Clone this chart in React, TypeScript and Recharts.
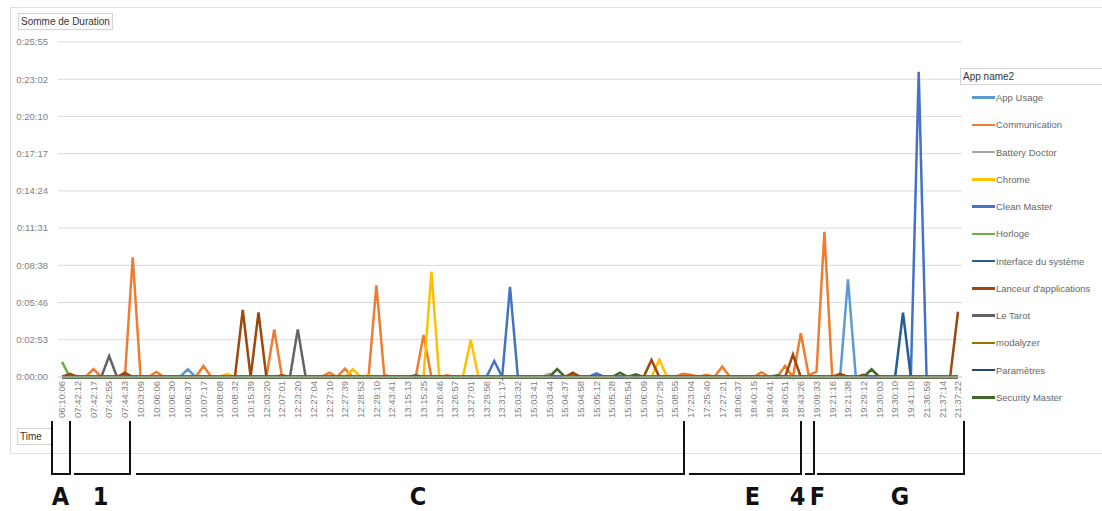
import { LineChart, Line, XAxis, YAxis, CartesianGrid } from 'recharts';

// category axis (only every second one is labelled, as in the Excel pivot chart)
const TIMES = [
  '06:10:06', '07:42:05', '07:42:12', '07:42:15', '07:42:17', '07:42:40', '07:42:55', '07:43:20',
  '07:44:33', '10:02:51', '10:03:09', '10:05:44', '10:06:06', '10:06:12', '10:06:30', '10:06:33',
  '10:06:37', '10:06:58', '10:07:17', '10:07:49', '10:08:08', '10:08:20', '10:08:32', '10:10:02',
  '10:15:39', '11:58:47', '12:03:20', '12:05:11', '12:07:01', '12:15:48', '12:23:20', '12:26:55',
  '12:27:04', '12:27:07', '12:27:10', '12:27:25', '12:27:39', '12:28:02', '12:28:53', '12:29:01',
  '12:29:10', '12:36:30', '12:43:41', '13:15:02', '13:15:13', '13:15:19', '13:15:25', '13:26:33',
  '13:26:46', '13:26:51', '13:26:57', '13:26:59', '13:27:01', '13:28:40', '13:29:56', '13:30:44',
  '13:31:17', '15:03:20', '15:03:32', '15:03:38', '15:03:41', '15:03:43', '15:03:44', '15:04:12',
  '15:04:37', '15:04:49', '15:04:58', '15:05:06', '15:05:12', '15:05:20', '15:05:28', '15:05:40',
  '15:05:54', '15:06:01', '15:06:09', '15:06:52', '15:07:29', '15:08:10', '15:08:55', '17:22:41',
  '17:23:04', '17:24:27', '17:25:40', '17:26:36', '17:27:21', '18:05:50', '18:06:37', '18:39:58',
  '18:40:15', '18:40:30', '18:40:41', '18:40:46', '18:40:51', '18:42:12', '18:43:26', '19:08:44',
  '19:09:33', '19:20:39', '19:21:16', '19:21:30', '19:21:38', '19:28:50', '19:29:12', '19:29:47',
  '19:30:03', '19:30:07', '19:30:10', '19:40:31', '19:41:10', '21:36:22', '21:36:59', '21:37:08',
  '21:37:14', '21:37:19', '21:37:22',
];

// duration in seconds, [category index, value]; everything else is 0
const APP_USAGE = [[16, 36], [100, 453]];
const COMMUNICATION = [
  [4, 37], [9, 556], [12, 23], [18, 51], [27, 221], [34, 20], [36, 39], [40, 426], [41, 10],
  [46, 195], [49, 8], [79, 15], [80, 10], [82, 10], [84, 48], [89, 22], [92, 51], [94, 203],
  [95, 8], [96, 25], [97, 674],
];
const BATTERY_DOCTOR = [[62, 15]];
const CHROME = [[21, 14], [37, 36], [39, 8], [47, 489], [52, 172], [76, 80]];
const CLEAN_MASTER = [[55, 74], [57, 419], [68, 17], [109, 1417]];
const HORLOGE = [[0, 70]];
const INTERFACE = [[107, 299]];
const LANCEUR = [[1, 15], [8, 20], [23, 311], [25, 300], [28, 8], [65, 20], [75, 79], [93, 104], [99, 15], [102, 10], [114, 303]];
const LE_TAROT = [[6, 97], [30, 221]];
const MODALYZER: number[][] = [];
const PARAMETRES: number[][] = [];
const SECURITY_MASTER = [[45, 8], [63, 37], [71, 20], [73, 12], [91, 8], [103, 36]];

const Y_TICKS = [0, 172.8, 345.6, 518.4, 691.2, 864, 1036.8, 1209.6, 1382.4, 1555.2];

const SERIES = [
  { key: 'appUsage', name: 'App Usage', color: '#5b9bd5', values: APP_USAGE },
  { key: 'communication', name: 'Communication', color: '#ed7d31', values: COMMUNICATION },
  { key: 'batteryDoctor', name: 'Battery Doctor', color: '#a5a5a5', values: BATTERY_DOCTOR },
  { key: 'chrome', name: 'Chrome', color: '#ffc000', values: CHROME },
  { key: 'cleanMaster', name: 'Clean Master', color: '#4472c4', values: CLEAN_MASTER },
  { key: 'horloge', name: 'Horloge', color: '#70ad47', values: HORLOGE },
  { key: 'interface', name: 'Interface du système', color: '#255e91', values: INTERFACE },
  { key: 'lanceur', name: "Lanceur d'applications", color: '#9e480e', values: LANCEUR },
  { key: 'leTarot', name: 'Le Tarot', color: '#636363', values: LE_TAROT },
  { key: 'modalyzer', name: 'modalyzer', color: '#997300', values: MODALYZER },
  { key: 'parametres', name: 'Paramètres', color: '#264478', values: PARAMETRES },
  { key: 'securityMaster', name: 'Security Master', color: '#43682b', values: SECURITY_MASTER },
];

const data = TIMES.map((time, i) => {
  const row: Record<string, string | number> = { time };
  SERIES.forEach((s) => {
    const hit = s.values.find((v) => v[0] === i);
    row[s.key] = hit ? hit[1] : 0;
  });
  return row;
});

// annotation drawn under the chart (pixel layout)
const BRACKETS = [[52, 70], [74, 130], [136, 684], [689, 801], [805, 814], [817, 964]];
const LETTERS = [
  { text: 'A', x: 60.5 }, { text: '1', x: 100.5 }, { text: 'C', x: 418 }, { text: 'E', x: 752.5 },
  { text: '4', x: 797.5 }, { text: 'F', x: 817.5 }, { text: 'G', x: 900 },
];

const pad = (n: number) => String(n).padStart(2, '0');
const fmtDuration = (s: number) => {
  const t = Math.round(s);
  return `${Math.floor(t / 3600)}:${pad(Math.floor((t % 3600) / 60))}:${pad(t % 60)}`;
};

const TimeTick = ({ x, y, payload }: any) => (
  <text
    x={x}
    y={y}
    transform={`rotate(-90, ${x}, ${y})`}
    textAnchor="end"
    dy="0.35em"
    fontSize={9.5}
    fill="#808080"
  >
    {payload.value}
  </text>
);

const fieldBtn = {
  position: 'absolute' as const,
  border: '1px solid #d4d4d4',
  background: '#fff',
  fontSize: 10,
  color: '#333',
  paddingLeft: 2,
  boxSizing: 'border-box' as const,
  lineHeight: '15px',
  whiteSpace: 'nowrap' as const,
  overflow: 'hidden',
};

export default function App() {
  return (
    <div
      style={{
        position: 'absolute',
        left: 0,
        top: 0,
        width: 1102,
        height: 511,
        background: '#fff',
        overflow: 'hidden',
        fontFamily: "'Liberation Sans', Arial, sans-serif",
      }}
    >
      <div style={{ position: 'absolute', left: 10, top: 7, width: 1100, height: 445, border: '1px solid #dedede' }} />

      <div style={{ position: 'absolute', left: 0, top: 0 }}>
        <LineChart width={1102} height={430} data={data} margin={{ top: 42, right: 140, bottom: 0, left: 0 }}>
          <CartesianGrid vertical={false} stroke="#d9d9d9" />
          <XAxis
            dataKey="time"
            interval={1}
            tick={<TimeTick />}
            tickLine={false}
            tickSize={0}
            tickMargin={4}
            axisLine={{ stroke: '#d9d9d9' }}
            height={53}
            padding={{ left: 4, right: 4 }}
          />
          <YAxis
            type="number"
            domain={[0, 1555.2]}
            ticks={Y_TICKS}
            tickFormatter={fmtDuration}
            width={58}
            axisLine={false}
            tickLine={false}
            tickMargin={4}
            tick={{ fontSize: 9.5, fill: '#808080' }}
          />
          {SERIES.map((s) => (
            <Line
              key={s.key}
              type="linear"
              dataKey={s.key}
              name={s.name}
              stroke={s.color}
              strokeWidth={2.5}
              dot={false}
              activeDot={false}
              isAnimationActive={false}
            />
          ))}
        </LineChart>
      </div>

      <div style={{ ...fieldBtn, left: 18, top: 13, width: 95, height: 17 }}>Somme de Duration</div>
      <div style={{ ...fieldBtn, left: 17, top: 428, width: 36, height: 17 }}>Time</div>
      <div style={{ ...fieldBtn, left: 960, top: 68, width: 150, height: 17 }}>App name2</div>

      {SERIES.map((s, i) => (
        <div
          key={s.key}
          style={{ position: 'absolute', left: 972, top: 97.7 + i * 27.24 - 7, height: 14, display: 'flex', alignItems: 'center' }}
        >
          <div style={{ width: 23, height: 2.5, background: s.color }} />
          <span style={{ fontSize: 9.5, color: '#666', marginLeft: 1, whiteSpace: 'nowrap' }}>{s.name}</span>
        </div>
      ))}

      <svg width={1102} height={511} style={{ position: 'absolute', left: 0, top: 0 }}>
        <line x1={BRACKETS[0][0]} y1={421} x2={BRACKETS[0][0]} y2={475} stroke="#111" strokeWidth={2} />
        {BRACKETS.map(([a, b]) => (
          <g key={a}>
            <line x1={a} y1={474} x2={b} y2={474} stroke="#111" strokeWidth={2} />
            <line x1={b} y1={421} x2={b} y2={475} stroke="#111" strokeWidth={2} />
          </g>
        ))}
        {LETTERS.map((l) => (
          <text
            key={l.text}
            x={l.x}
            y={505}
            textAnchor="middle"
            fontSize={25}
            fontWeight="bold"
            fontFamily="'DejaVu Sans Condensed', 'Liberation Sans Narrow', 'Liberation Sans', sans-serif"
            fill="#111"
          >
            {l.text}
          </text>
        ))}
      </svg>
    </div>
  );
}
